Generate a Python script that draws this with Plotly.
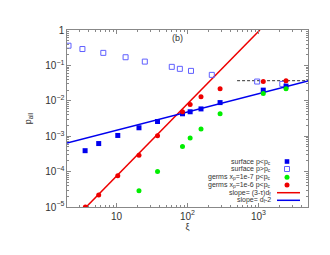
import plotly.graph_objects as go

# ---- data ----
surf_lo_x = [3.6, 5.6, 10.4, 20.7, 37.8, 85, 109, 155, 288, 1170, 2450]
surf_lo_y = [3.9e-4, 6.2e-4, 1.05e-3, 1.73e-3, 2.6e-3, 4.3e-3, 4.9e-3, 5.9e-3, 8.9e-3, 0.020, 0.026]

surf_hi_x = [2.1, 3.3, 6.5, 13.4, 25, 60, 78, 112, 220, 960, 2170]
surf_hi_y = [0.36, 0.29, 0.226, 0.17, 0.128, 0.091, 0.080, 0.070, 0.054, 0.035, 0.030]

germ7_x = [20.7, 37.8, 85, 109, 155, 288, 1170, 2450]
germ7_y = [2.9e-5, 1.0e-4, 5.1e-4, 8.9e-4, 1.6e-3, 4.3e-3, 0.016, 0.022]

germ6_x = [3.63, 5.6, 10.4, 20.7, 37.8, 85, 109, 155, 288, 1170, 2450]
germ6_y = [1.0e-5, 2.2e-5, 7.6e-5, 2.9e-4, 1.03e-3, 4.9e-3, 7.8e-3, 0.013, 0.022, 0.035, 0.037]

red_line_x = [2, 1050]
red_line_y = [2.8e-6, 1.0]

blue_line_x = [2, 5000]
blue_line_y = [6.38e-4, 0.0365]

dash_x = [500, 5000]
dash_y = [0.037, 0.037]

legend_labels = [
    "surface p&lt;p<sub>c</sub>",
    "surface p&gt;p<sub>c</sub>",
    "germs x<sub>p</sub>=1e-7 p&lt;p<sub>c</sub>",
    "germs x<sub>p</sub>=1e-6 p&lt;p<sub>c</sub>",
    "slope= (3-τ)d<sub>f</sub>",
    "slope= d<sub>f</sub>-2",
]

BLUE = "#0000ee"
LBLUE = "#6060ff"
GREEN = "#00ee00"
RED = "#ee0000"
FONT = "Liberation Sans, Arial, sans-serif"

fig = go.Figure()
fig.add_trace(go.Scatter(x=dash_x, y=dash_y, mode="lines",
                         line=dict(color="#333333", width=1, dash="3px,2px"), showlegend=False))
fig.add_trace(go.Scatter(x=red_line_x, y=red_line_y, mode="lines",
                         line=dict(color=RED, width=1.5), showlegend=False))
fig.add_trace(go.Scatter(x=blue_line_x, y=blue_line_y, mode="lines",
                         line=dict(color=BLUE, width=1.5), showlegend=False))
fig.add_trace(go.Scatter(x=surf_hi_x, y=surf_hi_y, mode="markers",
                         marker=dict(symbol="square-open", size=5, color=LBLUE, line=dict(width=1)),
                         showlegend=False))
fig.add_trace(go.Scatter(x=surf_lo_x, y=surf_lo_y, mode="markers",
                         marker=dict(symbol="square", size=5, color=BLUE), showlegend=False))
fig.add_trace(go.Scatter(x=germ7_x, y=germ7_y, mode="markers",
                         marker=dict(symbol="circle", size=5, color=GREEN), showlegend=False))
fig.add_trace(go.Scatter(x=germ6_x, y=germ6_y, mode="markers",
                         marker=dict(symbol="circle", size=5, color=RED), showlegend=False))

# manual legend (text right, key on the right)
X0, W = 67, 241
Y0, H = 207, 177
def px(x):
    return (x - X0) / W
def py(y):
    return (Y0 - y) / H

rows = [161.5, 169, 177.3, 185, 192.7, 200.3]
for lab, ry in zip(legend_labels, rows):
    fig.add_annotation(x=px(273), y=py(ry), xref="paper", yref="paper", text=lab,
                       showarrow=False, xanchor="right", yanchor="middle",
                       font=dict(size=7, color="#333333", family=FONT))

mx = 287
s = 2.3
fig.add_shape(type="rect", xref="paper", yref="paper", x0=px(mx - s), x1=px(mx + s),
              y0=py(rows[0] + s), y1=py(rows[0] - s), fillcolor=BLUE, line=dict(width=0))
fig.add_shape(type="rect", xref="paper", yref="paper", x0=px(mx - 2.5), x1=px(mx + 2.5),
              y0=py(rows[1] + 2.5), y1=py(rows[1] - 2.5), line=dict(color=LBLUE, width=1))
fig.add_shape(type="circle", xref="paper", yref="paper", x0=px(mx - 2.5), x1=px(mx + 2.5),
              y0=py(rows[2] + 2.5), y1=py(rows[2] - 2.5), fillcolor=GREEN, line=dict(width=0))
fig.add_shape(type="circle", xref="paper", yref="paper", x0=px(mx - 2.5), x1=px(mx + 2.5),
              y0=py(rows[3] + 2.5), y1=py(rows[3] - 2.5), fillcolor=RED, line=dict(width=0))
fig.add_shape(type="line", xref="paper", yref="paper", x0=px(277), x1=px(300),
              y0=py(rows[4]), y1=py(rows[4]), line=dict(color=RED, width=1.5))
fig.add_shape(type="line", xref="paper", yref="paper", x0=px(277), x1=px(300),
              y0=py(rows[5]), y1=py(rows[5]), line=dict(color=BLUE, width=1.5))

fig.add_annotation(x=px(177), y=py(38), xref="paper", yref="paper", text="(b)",
                   showarrow=False, xanchor="center", yanchor="middle",
                   font=dict(size=9, color="#333333", family=FONT))

axis_common = dict(
    type="log", showline=True, linecolor="#888888", linewidth=1, mirror="allticks",
    ticks="inside", ticklen=4, tickcolor="#888888", showgrid=False, zeroline=False,
    exponentformat="power", dtick=1, automargin=False,
    minor=dict(ticks="inside", ticklen=2, tickcolor="#888888", showgrid=False),
    tickfont=dict(size=8, color="#333333", family=FONT),
)
fig.update_xaxes(range=[0.30103, 3.69897],
                 title=dict(text="ξ", font=dict(size=9, color="#333333", family=FONT), standoff=1),
                 **axis_common)
fig.update_yaxes(range=[-5, 0],
                 title=dict(text="p<sub>all</sub>", font=dict(size=9, color="#333333", family=FONT), standoff=12),
                 **axis_common)

fig.update_layout(width=330, height=255, margin=dict(l=67, r=22, t=30, b=48),
                  plot_bgcolor="white", paper_bgcolor="white", showlegend=False,
                  font=dict(family=FONT, size=8, color="#333333"))

fig.write_html("out.html", config={"displayModeBar": False},
               post_script="document.body.style.margin='0';document.body.style.padding='0';")
